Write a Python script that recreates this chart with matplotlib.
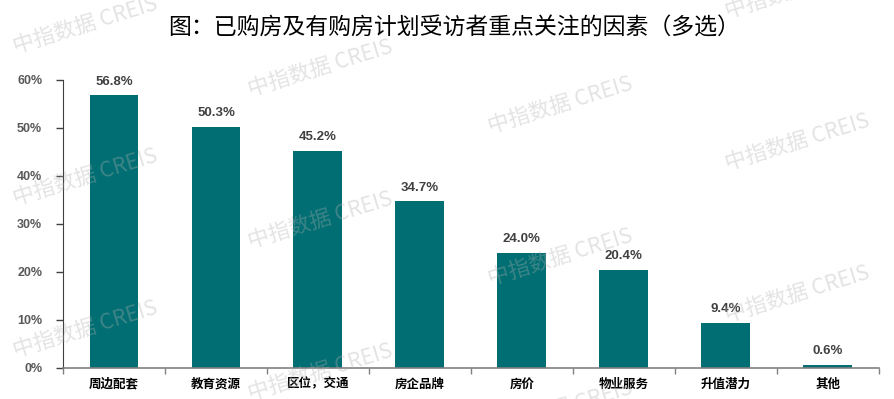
import numpy as np
import matplotlib.pyplot as plt
from matplotlib.ticker import FuncFormatter, FixedLocator

plt.rcParams['font.family'] = ['Noto Sans CJK SC', 'DejaVu Sans']

categories = ['周边配套', '教育资源', '区位，交通', '房企品牌', '房价', '物业服务', '升值潜力', '其他']
values = [56.8, 50.3, 45.2, 34.7, 24.0, 20.4, 9.4, 0.6]
y_ticks = [0, 10, 20, 30, 40, 50, 60]

title = '图：已购房及有购房计划受访者重点关注的因素（多选）'
watermark = '中指数据 CREIS'
bar_color = '#006e72'

fig = plt.figure(figsize=(8.94, 3.99), dpi=100)
ax = fig.add_axes([0.0705, 0.0777, 0.9125, 0.7218])

x = np.arange(len(categories))
ax.bar(x, values, width=0.48, color=bar_color, zorder=2)

for xi, v in zip(x, values):
    ax.text(xi, v + 1.6, '%.1f%%' % v, ha='center', va='bottom',
            fontsize=9.5, fontweight='bold', color='#404040', family=['Liberation Sans', 'DejaVu Sans'])

ax.set_xlim(-0.5, len(categories) - 0.5)
ax.set_ylim(0, 60)
ax.set_yticks(y_ticks)
ax.yaxis.set_major_formatter(FuncFormatter(lambda v, p: '%d%%' % v))
for lab in ax.get_yticklabels():
    lab.set_family(['Liberation Sans', 'DejaVu Sans'])
    lab.set_fontweight('bold')
ax.tick_params(axis='y', labelsize=9, labelcolor='#595959', length=5, width=1, color='#404040', pad=10)

ax.set_xticks(x)
ax.set_xticklabels(categories, fontsize=9, fontweight='bold', color='black')
ax.tick_params(axis='x', which='major', length=0, pad=7)
ax.xaxis.set_minor_locator(FixedLocator(np.arange(len(categories) + 1) - 0.5))
ax.tick_params(axis='x', which='minor', length=4, width=1, color='#808080')

for s in ['top', 'right']:
    ax.spines[s].set_visible(False)
ax.spines['left'].set_color('#404040')
ax.spines['bottom'].set_color('#808080')
ax.spines['bottom'].set_linewidth(1.2)

fig.text(0.508, 0.93, title, ha='center', va='center', fontsize=16.5, color='black')

# watermarks, in pixel coordinates of the figure
wm_x = [85, 320, 560, 797]
wm_y0 = [25, 68, 105, -10]
for cx, y0 in zip(wm_x, wm_y0):
    for k in range(4):
        cy = y0 + 152 * k
        if cy > 430:
            continue
        fig.text(cx / 894, 1 - cy / 399, watermark, ha='center', va='center',
                 rotation=17, fontsize=15.5, fontweight='medium', color='#b0b0b0',
                 alpha=0.35, zorder=10)

fig.savefig('out.png', dpi=100)
